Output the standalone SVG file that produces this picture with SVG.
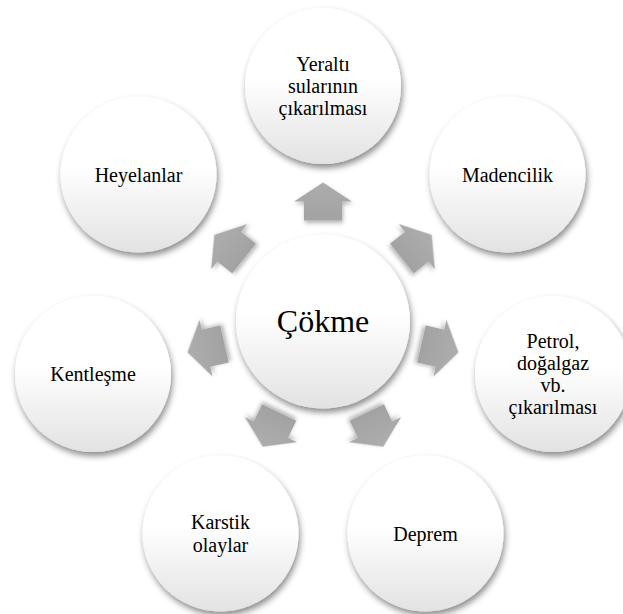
<svg xmlns="http://www.w3.org/2000/svg" width="623" height="614" viewBox="0 0 623 614">
<style>
  .bub { fill: url(#bubGrad); filter: url(#bubShadow); }
  .lbl { font-family: "Liberation Serif", "Times New Roman", serif; font-size: 20px; fill: #000; text-anchor: middle; }
  .big { font-size: 32px; }
  .arr { fill: url(#arrGrad); filter: url(#arrShadow); }
</style>
<defs>
  <linearGradient id="bubGrad" x1="0" y1="0" x2="0" y2="1">
    <stop offset="0" stop-color="#ffffff"/>
    <stop offset="0.45" stop-color="#ffffff"/>
    <stop offset="1" stop-color="#e2e2e2"/>
  </linearGradient>
  <linearGradient id="arrGrad" x1="0" y1="0" x2="0" y2="1">
    <stop offset="0" stop-color="#adadad"/>
    <stop offset="1" stop-color="#a2a2a2"/>
  </linearGradient>
  <filter id="bubShadow" x="-20%" y="-20%" width="140%" height="140%">
    <feDropShadow dx="1.5" dy="4" stdDeviation="3" flood-color="#000" flood-opacity="0.45"/>
  </filter>
  <filter id="arrShadow" x="-30%" y="-30%" width="160%" height="160%">
    <feDropShadow dx="1" dy="2.5" stdDeviation="2" flood-color="#000" flood-opacity="0.3"/>
  </filter>
  <polygon id="arrowShape" points="0,-19 29,0 19,0 19,19 -19,19 -19,0 -29,0"/>
</defs>
<rect width="623" height="614" fill="#ffffff"/>

<g id="connectors">
  <use href="#arrowShape" class="arr" transform="translate(323,321.5) rotate(0) translate(0,-120)"/>
  <use href="#arrowShape" class="arr" transform="translate(323,321.5) rotate(51.43) translate(0,-120)"/>
  <use href="#arrowShape" class="arr" transform="translate(323,321.5) rotate(102.86) translate(0,-120)"/>
  <use href="#arrowShape" class="arr" transform="translate(323,321.5) rotate(154.29) translate(0,-120)"/>
  <use href="#arrowShape" class="arr" transform="translate(323,321.5) rotate(205.71) translate(0,-120)"/>
  <use href="#arrowShape" class="arr" transform="translate(323,321.5) rotate(257.14) translate(0,-120)"/>
  <use href="#arrowShape" class="arr" transform="translate(323,321.5) rotate(308.57) translate(0,-120)"/>
</g>

<g id="node-cokme">
  <circle class="bub" cx="323" cy="321.5" r="87"/>
  <text class="lbl big" x="323" y="332">Çökme</text>
</g>

<g id="node-yeralti">
  <circle class="bub" cx="323" cy="86" r="78"/>
  <text class="lbl" x="323" y="70.8">Yeraltı</text>
  <text class="lbl" x="323" y="93">sularının</text>
  <text class="lbl" x="323" y="115.2">çıkarılması</text>
</g>

<g id="node-madencilik">
  <circle class="bub" cx="507.5" cy="174.5" r="78"/>
  <text class="lbl" x="507.5" y="181.5">Madencilik</text>
</g>

<g id="node-petrol">
  <circle class="bub" cx="553" cy="374" r="78"/>
  <text class="lbl" x="553" y="347.7">Petrol,</text>
  <text class="lbl" x="553" y="369.9">doğalgaz</text>
  <text class="lbl" x="553" y="392.1">vb.</text>
  <text class="lbl" x="553" y="414.3">çıkarılması</text>
</g>

<g id="node-deprem">
  <circle class="bub" cx="425.5" cy="533.5" r="78"/>
  <text class="lbl" x="425.5" y="540.5">Deprem</text>
</g>

<g id="node-karstik">
  <circle class="bub" cx="220.5" cy="533.5" r="78"/>
  <text class="lbl" x="220.5" y="529.4">Karstik</text>
  <text class="lbl" x="220.5" y="551.6">olaylar</text>
</g>

<g id="node-kentlesme">
  <circle class="bub" cx="93" cy="374" r="78"/>
  <text class="lbl" x="93" y="381">Kentleşme</text>
</g>

<g id="node-heyelanlar">
  <circle class="bub" cx="138.5" cy="174.5" r="78"/>
  <text class="lbl" x="138.5" y="181.5">Heyelanlar</text>
</g>
</svg>
